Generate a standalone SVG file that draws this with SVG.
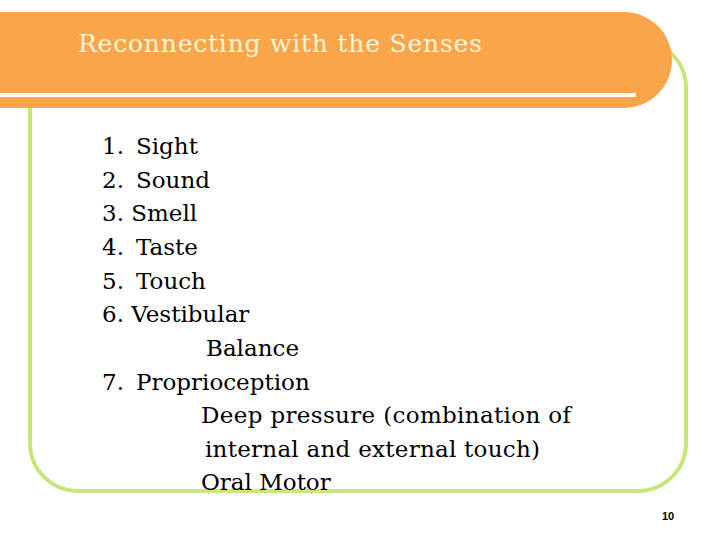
<svg xmlns="http://www.w3.org/2000/svg" width="720" height="540" viewBox="0 0 720 540">
<style>
.t{font-family:"DejaVu Serif","Liberation Serif",serif;font-size:23px;fill:#000}
</style>
<rect width="720" height="540" fill="#fff"/>
<g id="frame"><rect x="30" y="40" width="656" height="451" rx="48" fill="none" stroke="#C8E67C" stroke-width="4"/></g>
<g id="header">
<path d="M0 12 H624 A48 48 0 0 1 672 60 A48 48 0 0 1 624 108 H0 Z" fill="#FBA54A"/>
<rect x="0" y="93" width="636" height="4" fill="#fff"/>
<text x="78" y="52" textLength="404" style="font-family:'DejaVu Serif','Liberation Serif',serif;font-size:25px;fill:#FFF5D8">Reconnecting with the Senses</text>
</g>
<g id="list">
<text class="t" x="102" y="154">1.<tspan x="136">Sight</tspan></text>
<text class="t" x="102" y="188">2.<tspan x="136">Sound</tspan></text>
<text class="t" x="102" y="221">3. Smell</text>
<text class="t" x="102" y="255">4.<tspan x="136">Taste</tspan></text>
<text class="t" x="102" y="289">5.<tspan x="136">Touch</tspan></text>
<text class="t" x="102" y="322">6. Vestibular</text>
<text class="t" x="206" y="356">Balance</text>
<text class="t" x="102" y="390">7.<tspan x="136">Proprioception</tspan></text>
<text class="t" x="201" y="423" textLength="370">Deep pressure (combination of</text>
<text class="t" x="205" y="457" textLength="335">internal and external touch)</text>
<text class="t" x="201" y="490">Oral Motor</text>
</g>
<text x="662" y="520" style="font-family:'Liberation Sans',sans-serif;font-size:11px;font-weight:bold">10</text>
</svg>
